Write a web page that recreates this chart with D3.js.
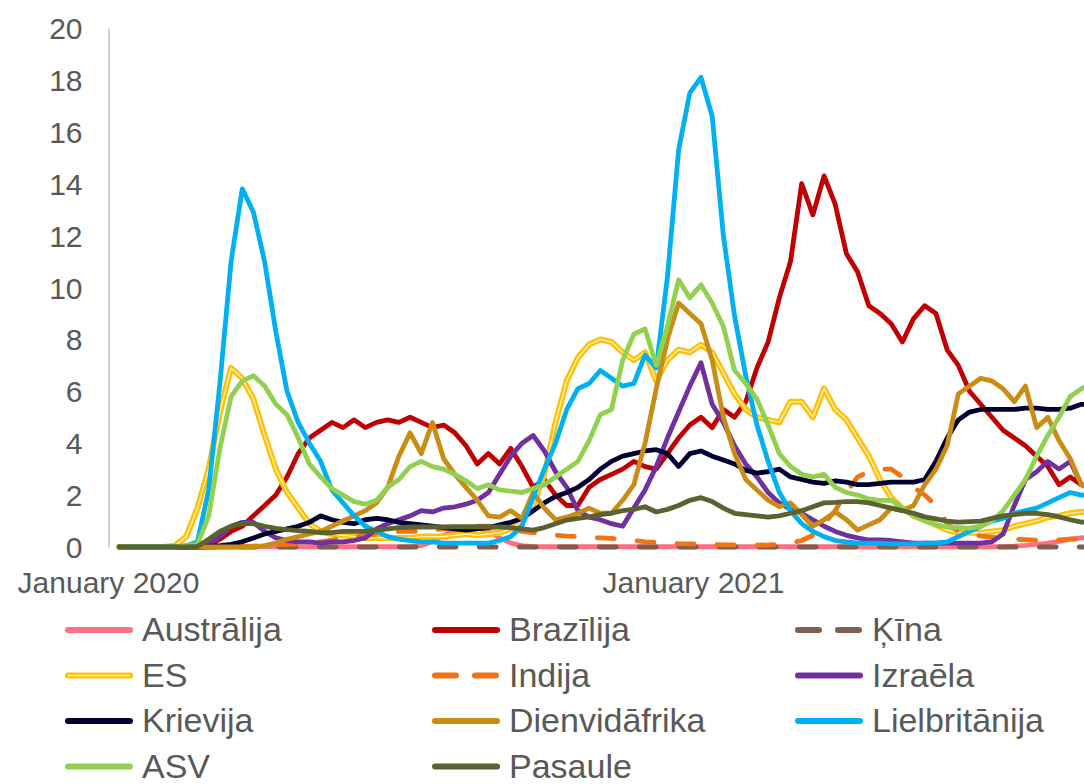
<!DOCTYPE html>
<html><head><meta charset="utf-8">
<script src="https://cdn.jsdelivr.net/npm/d3@7"></script>
<style>html,body{margin:0;padding:0;background:#fff;} svg{display:block;}</style>
</head><body>
<svg id="chart" width="1084" height="784"></svg>
<script>
// ---- data ----
const yTicks = [0, 2, 4, 6, 8, 10, 12, 14, 16, 18, 20];
const xTickDates = ["2020-01-01", "2021-01-01"];
const xTickLabels = ["January 2020", "January 2021"];
// weekly observations from 8 Jan 2020 to 8 Sep 2021
const dates = d3.utcDay.range(new Date(Date.UTC(2020, 0, 8)), new Date(Date.UTC(2021, 8, 9)), 7);

const seriesNames = ["Austrālija", "Brazīlija", "Ķīna", "ES", "Indija", "Izraēla",
                     "Krievija", "Dienvidāfrika", "Lielbritānija", "ASV", "Pasaule"];

const australia = [0, 0, 0, 0, 0, 0, 0, 0, 0, 0,
  0, 0.02, 0.03, 0.02, 0.01, 0.01, 0.01, 0.01, 0.01, 0.01,
  0.01, 0.01, 0.01, 0.01, 0.01, 0.01, 0.01, 0.05, 0.2, 0.45,
  0.65, 0.75, 0.75, 0.6, 0.35, 0.15, 0.05, 0.01, 0.01, 0.01,
  0.01, 0.01, 0.01, 0.01, 0.01, 0.01, 0.01, 0.01, 0.01, 0.01,
  0.01, 0.01, 0.01, 0.01, 0.01, 0.01, 0.01, 0.01, 0.01, 0.01,
  0.01, 0.01, 0.01, 0.01, 0.01, 0.01, 0.01, 0.01, 0.01, 0.01,
  0.01, 0.01, 0.01, 0.01, 0.01, 0.01, 0.01, 0.01, 0.01, 0.01,
  0.03, 0.06, 0.1, 0.15, 0.22, 0.3, 0.35, 0.4];

const brazil = [0, 0, 0, 0, 0, 0, 0, 0, 0.05, 0.3,
  0.6, 0.8, 1.2, 1.6, 2.0, 2.7, 3.6, 4.2, 4.5, 4.8,
  4.6, 4.9, 4.6, 4.8, 4.9, 4.8, 5.0, 4.8, 4.6, 4.7,
  4.4, 3.9, 3.2, 3.6, 3.2, 3.8, 3.1, 2.3, 2.6, 2.0,
  1.6, 1.6, 2.3, 2.6, 2.8, 3.0, 3.3, 3.1, 3.0, 3.6,
  4.2, 4.7, 5.0, 4.6, 5.3, 5.0, 5.6, 6.9, 7.9, 9.6,
  11.0, 14.0, 12.8, 14.3, 13.2, 11.3, 10.6, 9.3, 9.0, 8.6,
  7.9, 8.8, 9.3, 9.0, 7.6, 7.0, 6.0, 5.5, 5.0, 4.5,
  4.2, 3.9, 3.5, 3.1, 2.4, 2.7, 2.4, 2.3];

const china = [0, 0, 0, 0, 0, 0, 0, 0, 0, 0,
  0, 0, 0, 0, 0, 0, 0, 0, 0, 0,
  0, 0, 0, 0, 0, 0, 0, 0, 0, 0,
  0, 0, 0, 0, 0, 0, 0, 0, 0, 0,
  0, 0, 0, 0, 0, 0, 0, 0, 0, 0,
  0, 0, 0, 0, 0, 0, 0, 0, 0, 0,
  0, 0, 0, 0, 0, 0, 0, 0, 0, 0,
  0, 0, 0, 0, 0, 0, 0, 0, 0, 0,
  0, 0, 0, 0, 0, 0, 0, 0];

const eu = [0, 0, 0, 0, 0, 0.05, 0.4, 1.5, 3.0, 5.2,
  6.9, 6.5, 5.7, 4.3, 3.0, 2.1, 1.5, 0.9, 0.6, 0.5,
  0.45, 0.4, 0.35, 0.35, 0.35, 0.35, 0.35, 0.4, 0.4, 0.4,
  0.45, 0.5, 0.45, 0.5, 0.55, 0.7, 1.0, 1.6, 2.8, 4.8,
  6.4, 7.3, 7.8, 8.0, 7.9, 7.5, 7.2, 7.5, 6.4, 7.2,
  7.6, 7.5, 7.8, 7.5, 6.7, 5.9, 5.3, 5.0, 4.9, 4.8,
  5.6, 5.6, 5.0, 6.1, 5.3, 4.9, 4.2, 3.5, 2.6, 1.9,
  1.5, 1.2, 1.05, 0.85, 0.65, 0.55, 0.55, 0.55, 0.6, 0.65,
  0.8, 0.9, 1.0, 1.15, 1.2, 1.3, 1.35, 1.4];

const india = [0, 0, 0, 0, 0, 0, 0, 0, 0, 0,
  0, 0.02, 0.03, 0.05, 0.07, 0.1, 0.12, 0.15, 0.2, 0.27,
  0.35, 0.4, 0.45, 0.5, 0.55, 0.6, 0.6, 0.6, 0.65, 0.7,
  0.75, 0.8, 0.8, 0.8, 0.75, 0.7, 0.6, 0.55, 0.5, 0.45,
  0.42, 0.4, 0.37, 0.35, 0.33, 0.3, 0.25, 0.2, 0.18, 0.15,
  0.13, 0.12, 0.11, 0.1, 0.08, 0.08, 0.08, 0.07, 0.08, 0.1,
  0.15, 0.25, 0.45, 0.9, 1.4, 2.1, 2.7, 2.9, 3.0, 3.0,
  2.7, 2.3, 2.0, 1.6, 0.9, 0.6, 0.5, 0.42, 0.38, 0.33,
  0.3, 0.28, 0.26, 0.26, 0.27, 0.3, 0.3, 0.3];

const israel = [0, 0, 0, 0, 0, 0, 0, 0, 0.1, 0.4,
  0.8, 0.95, 0.95, 0.6, 0.35, 0.25, 0.2, 0.2, 0.15, 0.2,
  0.2, 0.25, 0.35, 0.7, 0.9, 1.05, 1.2, 1.4, 1.35, 1.5,
  1.55, 1.65, 1.8, 2.1, 2.8, 3.5, 4.0, 4.3, 3.7, 2.9,
  2.3, 1.4, 1.15, 1.05, 0.9, 0.8, 1.5, 2.2, 3.1, 4.2,
  5.2, 6.2, 7.1, 5.5, 4.8, 3.9, 3.2, 2.7, 2.1, 1.7,
  1.45, 1.3, 1.05, 0.8, 0.6, 0.45, 0.35, 0.27, 0.27, 0.25,
  0.2, 0.15, 0.15, 0.15, 0.15, 0.15, 0.15, 0.15, 0.2, 0.5,
  1.6, 2.6, 2.9, 3.3, 3.0, 3.3, 2.4, 2.2];

const russia = [0, 0, 0, 0, 0, 0, 0, 0, 0.02, 0.05,
  0.1, 0.2, 0.35, 0.5, 0.6, 0.7, 0.8, 0.95, 1.2, 1.05,
  0.95, 0.9, 1.05, 1.1, 1.05, 0.95, 0.9, 0.85, 0.8, 0.75,
  0.7, 0.65, 0.7, 0.75, 0.85, 0.95, 1.1, 1.4, 1.7, 1.95,
  2.1, 2.3, 2.6, 3.0, 3.3, 3.5, 3.6, 3.7, 3.75, 3.6,
  3.1, 3.6, 3.7, 3.5, 3.35, 3.2, 2.95, 2.85, 2.9, 3.0,
  2.7, 2.6, 2.5, 2.45, 2.55, 2.5, 2.4, 2.4, 2.45, 2.5,
  2.5, 2.5, 2.6, 3.3, 4.2, 4.9, 5.2, 5.3, 5.3, 5.3,
  5.3, 5.35, 5.35, 5.3, 5.3, 5.35, 5.5, 5.5];

const southAfrica = [0, 0, 0, 0, 0, 0, 0, 0, 0, 0,
  0, 0, 0, 0.05, 0.15, 0.3, 0.4, 0.5, 0.6, 0.8,
  1.0, 1.2, 1.4, 1.7, 2.3, 3.5, 4.4, 3.6, 4.8, 3.4,
  2.8, 2.3, 1.8, 1.2, 1.15, 1.4, 1.1, 2.1, 1.5, 1.05,
  1.15, 1.3, 1.5, 1.3, 1.3, 1.8, 2.4, 4.0, 6.1, 8.0,
  9.4, 9.0, 8.6, 7.2, 5.0, 3.6, 2.6, 2.2, 1.8, 1.55,
  1.7, 1.25, 0.8, 1.05, 1.35, 1.05, 0.65, 0.85, 1.05, 1.5,
  1.4, 1.6, 2.4, 3.0, 3.9, 5.9, 6.2, 6.5, 6.4, 6.1,
  5.6, 6.2, 4.6, 5.0, 4.1, 3.4, 2.4, 2.2];

const uk = [0, 0, 0, 0, 0, 0, 0.05, 0.2, 2.2, 6.3,
  11.0, 13.8, 12.9, 11.0, 8.3, 6.0, 4.8, 4.0, 3.3, 2.2,
  1.7, 1.2, 0.8, 0.6, 0.4, 0.3, 0.25, 0.2, 0.2, 0.15,
  0.15, 0.15, 0.15, 0.15, 0.25, 0.4, 0.8, 1.9, 3.0, 4.0,
  5.3, 6.1, 6.3, 6.8, 6.5, 6.2, 6.3, 7.4, 6.9, 10.4,
  15.3, 17.5, 18.1, 16.6, 12.0, 8.9, 6.6, 4.7, 3.3, 2.1,
  1.4, 0.9, 0.6, 0.4, 0.25, 0.2, 0.15, 0.15, 0.15, 0.12,
  0.12, 0.12, 0.15, 0.15, 0.2, 0.4, 0.6, 0.8, 1.0, 1.1,
  1.3, 1.4, 1.5, 1.7, 1.9, 2.1, 2.0, 2.0];

const usa = [0, 0, 0, 0, 0, 0, 0.05, 0.1, 1.2, 3.8,
  5.8, 6.4, 6.6, 6.2, 5.5, 5.1, 4.2, 3.2, 2.7, 2.25,
  2.0, 1.75, 1.65, 1.8, 2.3, 2.6, 3.1, 3.3, 3.1, 3.0,
  2.8, 2.55, 2.25, 2.4, 2.2, 2.15, 2.1, 2.25, 2.4, 2.7,
  3.0, 3.3, 4.1, 5.1, 5.3, 7.2, 8.2, 8.4, 7.0, 8.5,
  10.3, 9.6, 10.1, 9.4, 8.5, 6.8, 6.3, 5.7, 4.7, 3.6,
  3.1, 2.8, 2.7, 2.8, 2.3, 2.1, 2.0, 1.85, 1.8, 1.8,
  1.5, 1.2, 1.0, 0.85, 0.78, 0.75, 0.73, 0.8, 1.0, 1.4,
  2.0, 2.6, 3.5, 4.3, 5.0, 5.8, 6.1, 6.3];

const world = [0, 0, 0, 0, 0, 0, 0, 0.02, 0.3, 0.6,
  0.8, 0.9, 0.9, 0.8, 0.72, 0.67, 0.63, 0.6, 0.55, 0.55,
  0.6, 0.6, 0.6, 0.65, 0.7, 0.75, 0.77, 0.77, 0.77, 0.77,
  0.78, 0.78, 0.78, 0.77, 0.77, 0.75, 0.7, 0.65, 0.75, 0.9,
  1.04, 1.1, 1.16, 1.25, 1.3, 1.4, 1.45, 1.55, 1.35, 1.45,
  1.6, 1.8, 1.9, 1.75, 1.5, 1.3, 1.25, 1.2, 1.15, 1.2,
  1.3, 1.4, 1.55, 1.7, 1.72, 1.75, 1.75, 1.7, 1.6, 1.5,
  1.4, 1.3, 1.16, 1.08, 1.0, 0.96, 0.98, 1.0, 1.1, 1.2,
  1.25, 1.3, 1.3, 1.25, 1.16, 1.05, 0.96, 0.95];

const seriesValues = [australia, brazil, china, eu, india, israel,
                      russia, southAfrica, uk, usa, world];

// ---- styles ----
const seriesStyle = {
  "Austrālija":    {color: "#FF6F82"},
  "Brazīlija":     {color: "#C00000"},
  "Ķīna":          {color: "#7F6050", dashed: true},
  "ES":            {color: "#FFC000", inner: "#FFEFB8"},
  "Indija":        {color: "#F07314", dashed: true},
  "Izraēla":       {color: "#7030A0"},
  "Krievija":      {color: "#000033"},
  "Dienvidāfrika": {color: "#C98C14"},
  "Lielbritānija": {color: "#00B0F0"},
  "ASV":           {color: "#92D050"},
  "Pasaule":       {color: "#5B612F"}
};

const W = 1084, H = 784;
const font = "'Liberation Sans', Arial, Helvetica, sans-serif";
const textColor = "#595959";

const svg = d3.select("#chart");
svg.append("rect").attr("width", W).attr("height", H).attr("fill", "#fff");

const parse = d3.utcParse("%Y-%m-%d");
const x = d3.scaleUtc()
  .domain([parse(xTickDates[0]), parse(xTickDates[1])])
  .range([108, 693]);
const y = d3.scaleLinear().domain([0, 20]).range([547, 28]);

// y axis
const yAxis = svg.append("g")
  .attr("transform", "translate(108.5,0)")
  .call(d3.axisLeft(y).tickValues(yTicks).tickSize(0).tickSizeOuter(0).tickPadding(26));
yAxis.select(".domain").attr("stroke", "#BFBFBF").attr("stroke-width", 1.5);
yAxis.selectAll("text")
  .attr("font-family", font).attr("font-size", 30).attr("fill", textColor)
  .attr("dy", "0.35em");

// x axis labels
const xAxis = svg.append("g")
  .attr("transform", "translate(0,547)")
  .call(d3.axisBottom(x).tickValues(xTickDates.map(parse)).tickSize(0)
        .tickFormat((d, i) => xTickLabels[i]));
xAxis.select(".domain").remove();
xAxis.selectAll("text")
  .attr("font-family", font).attr("font-size", 30).attr("fill", textColor)
  .attr("y", 46).attr("dy", 0);

// lines
const line = d3.line()
  .x((d, i) => x(dates[i]))
  .y(d => y(d));

const plot = svg.append("g");
seriesNames.forEach((name, k) => {
  const st = seriesStyle[name];
  const p = plot.append("path")
    .datum(seriesValues[k])
    .attr("d", line)
    .attr("fill", "none")
    .attr("stroke", st.color)
    .attr("stroke-width", st.dashed ? 4.8 : (st.inner ? 6 : 4.8))
    .attr("stroke-linejoin", "round")
    .attr("stroke-linecap", "round");
  if (st.dashed) p.attr("stroke-dasharray", "17,23");
  if (st.inner) {
    plot.append("path")
      .datum(seriesValues[k])
      .attr("d", line)
      .attr("fill", "none")
      .attr("stroke", st.inner)
      .attr("stroke-width", 1.4)
      .attr("stroke-linejoin", "round");
  }
});

// legend
const colX = [65, 432, 795];
const legend = svg.append("g");
seriesNames.forEach((name, k) => {
  const st = seriesStyle[name];
  const cx = colX[k % 3];
  const cy = 630 + 45.5 * Math.floor(k / 3);
  const ln = legend.append("line")
    .attr("x1", cx + 3).attr("x2", cx + 65)
    .attr("y1", cy).attr("y2", cy)
    .attr("stroke", st.color)
    .attr("stroke-width", 6)
    .attr("stroke-linecap", "round");
  if (st.dashed) ln.attr("stroke-dasharray", "21,19");
  if (st.inner) {
    legend.append("line")
      .attr("x1", cx + 3).attr("x2", cx + 65)
      .attr("y1", cy).attr("y2", cy)
      .attr("stroke", st.inner).attr("stroke-width", 1.6);
  }
  legend.append("text")
    .attr("x", cx + 77).attr("y", cy + 11)
    .attr("font-family", font).attr("font-size", 34).attr("fill", textColor)
    .text(name);
});
</script>
</body></html>
